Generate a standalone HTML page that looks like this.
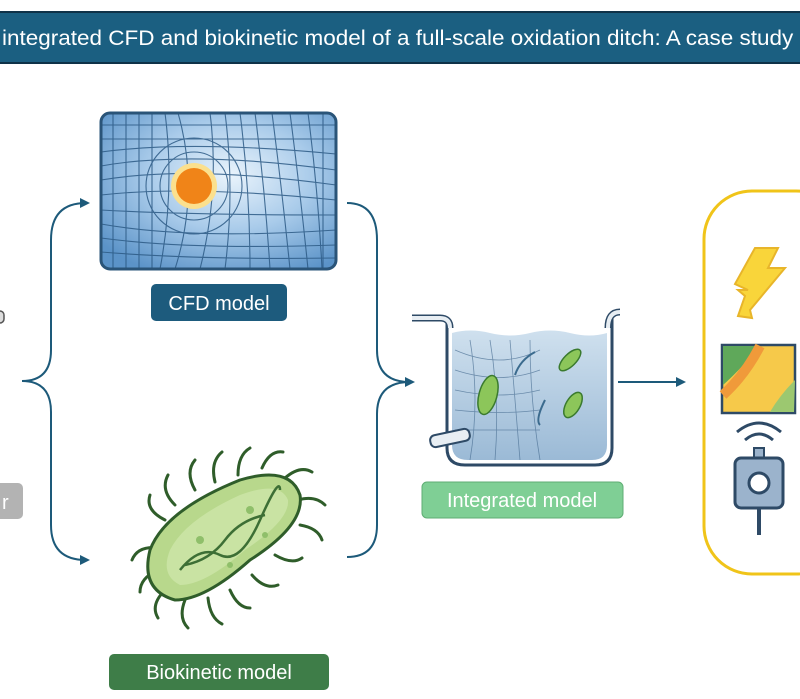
<!DOCTYPE html>
<html><head><meta charset="utf-8"><style>
html,body{margin:0;padding:0;background:#fff;width:800px;height:699px;overflow:hidden;font-family:"Liberation Sans",sans-serif}
</style></head><body>
<svg width="800" height="699" viewBox="0 0 800 699" xmlns="http://www.w3.org/2000/svg">
<defs>
<radialGradient id="cfdg" cx="0.55" cy="0.4" r="0.7"><stop offset="0" stop-color="#eaf4fc"/><stop offset="0.5" stop-color="#a9cbea"/><stop offset="1" stop-color="#5b93c8"/></radialGradient>
<linearGradient id="water" x1="0" y1="0" x2="0" y2="1"><stop offset="0" stop-color="#cfe0ee"/><stop offset="1" stop-color="#9bbad6"/></linearGradient>
<clipPath id="cfdclip"><rect x="101" y="113" width="235" height="156" rx="9"/></clipPath>
</defs>
<!-- header -->
<rect x="0" y="12" width="800" height="51" fill="#1b5f81"/>
<rect x="0" y="11" width="800" height="2" fill="#0f3248"/>
<rect x="0" y="62" width="800" height="2" fill="#0f3248"/>
<text x="2" y="45" font-size="21" fill="#fff" textLength="810" lengthAdjust="spacingAndGlyphs">integrated CFD and biokinetic model of a full-scale oxidation ditch: A case study o</text>

<!-- CFD panel -->
<rect x="101" y="113" width="235" height="156" rx="9" fill="url(#cfdg)"/>
<g clip-path="url(#cfdclip)" stroke="#2c5a85" stroke-width="1.1" fill="none" opacity="0.85">
<path d="M101 125H336M101 139H336M101 152Q190 140 336 154M101 166Q190 150 336 170M101 180Q190 165 336 185M101 195Q190 185 336 200M101 210Q190 215 336 215M101 224Q190 240 336 230M101 238Q190 250 336 245M101 252Q200 260 336 258"/>
<path d="M113 113V269M126 113V269M139 113V269M152 113V269M165 113Q175 190 160 269M178 113Q200 190 175 269M210 113Q220 190 200 269M225 113Q235 190 225 269M240 113Q250 190 250 269M255 113Q265 190 270 269M272 113Q282 190 290 269M290 113Q300 190 308 269M308 113Q318 190 322 269M323 113V269"/>
<circle cx="194" cy="186" r="22"/><circle cx="194" cy="186" r="34"/><circle cx="194" cy="186" r="48"/>
</g>
<rect x="101" y="113" width="235" height="156" rx="9" fill="none" stroke="#2a5478" stroke-width="3"/>
<circle cx="194" cy="186" r="23" fill="#fbe08e"/>
<circle cx="194" cy="186" r="18" fill="#f08418"/>
<rect x="151" y="284" width="136" height="37" rx="5" fill="#1d5b7d"/>
<text x="219" y="310" font-size="20" fill="#fff" text-anchor="middle">CFD model</text>

<!-- left brace -->
<path d="M86 203 Q51 203 51 240 L51 350 Q51 381 22 381 Q51 381 51 412 L51 525 Q51 560 86 560" fill="none" stroke="#1d5a7a" stroke-width="2"/>
<path d="M80 198 L90 203 L80 208Z" fill="#1d5a7a"/>
<path d="M80 555 L90 560 L80 565Z" fill="#1d5a7a"/>
<!-- right brace -->
<path d="M347 203 Q377 203 377 240 L377 350 Q377 382 410 382 M347 557 Q377 557 377 525 L377 414 Q377 382 410 382" fill="none" stroke="#1d5a7a" stroke-width="2"/>
<path d="M405 377 L415 382 L405 387Z" fill="#1d5a7a"/>
<!-- arrow to right -->
<path d="M618 382 L680 382" stroke="#1d5a7a" stroke-width="2"/>
<path d="M676 377 L686 382 L676 387Z" fill="#1d5a7a"/>

<!-- left edge bits -->
<rect x="-10" y="483" width="33" height="36" rx="5" fill="#b3b3b3"/>
<text x="2" y="509" font-size="20" fill="#fff">r</text>
<rect x="-6" y="311" width="10" height="12" rx="4" fill="#ddd" stroke="#555" stroke-width="1.5"/>

<!-- tank -->
<path d="M447 318 L447 448 Q447 465 465 465 L595 465 Q612 465 612 448 L612 318" fill="#fff" stroke="#2e4a66" stroke-width="3"/>
<path d="M452 333 Q470 328 490 333 T530 333 T570 333 T607 333 L607 445 Q607 460 592 460 L468 460 Q452 460 452 445Z" fill="url(#water)"/>
<g stroke="#4a6f93" stroke-width="0.8" fill="none" opacity="0.7">
<path d="M455 350Q500 370 540 350M455 370Q500 385 540 370M455 390Q500 400 540 390M455 410Q500 415 540 410M455 430Q500 430 540 430"/>
<path d="M470 340Q480 400 470 460M490 340Q500 400 495 460M510 340Q515 400 520 460M530 340Q530 400 540 460"/>
</g>
<path d="M412 318 L440 318 Q450 318 450 328" fill="none" stroke="#2e4a66" stroke-width="7"/>
<path d="M412 318 L440 318 Q450 318 450 328" fill="none" stroke="#e8eef3" stroke-width="4"/>
<path d="M608 328 Q608 312 620 312" fill="none" stroke="#2e4a66" stroke-width="7"/>
<path d="M608 328 Q608 312 620 312" fill="none" stroke="#e8eef3" stroke-width="4"/>
<rect x="430" y="432" width="40" height="12" rx="5" fill="#e8eef3" stroke="#2e4a66" stroke-width="2" transform="rotate(-12 450 438)"/>
<ellipse cx="488" cy="395" rx="9" ry="20" fill="#8cc65a" stroke="#3a7a2e" stroke-width="1.5" transform="rotate(15 488 395)"/>
<ellipse cx="570" cy="360" rx="6" ry="14" fill="#8cc65a" stroke="#3a7a2e" stroke-width="1.5" transform="rotate(45 570 360)"/>
<ellipse cx="573" cy="405" rx="7" ry="14" fill="#8cc65a" stroke="#3a7a2e" stroke-width="1.5" transform="rotate(30 573 405)"/>
<path d="M535 352 Q520 360 515 375 M545 400 Q535 420 540 425" fill="none" stroke="#3b6b8e" stroke-width="2"/>
<rect x="422" y="482" width="201" height="36" rx="5" fill="#7fcf95" stroke="#5fae74"/>
<text x="522" y="507" font-size="20" fill="#fff" text-anchor="middle">Integrated model</text>

<!-- bacterium -->
<g stroke="#2f5d2a" stroke-width="3" fill="none" stroke-linecap="round">
<path d="M165 520 Q145 510 150 495M175 505 Q160 490 168 475M195 490 Q185 472 195 460M215 482 Q210 462 222 452M238 475 Q238 455 250 448M262 468 Q270 450 283 452M285 478 Q300 465 312 472M298 500 Q315 495 325 505M300 525 Q318 528 322 540M160 548 Q138 545 132 560M158 570 Q140 578 140 592M165 590 Q150 605 158 618M185 600 Q178 618 188 628M208 598 Q210 618 222 624M230 590 Q238 608 250 608M252 575 Q265 590 278 585M275 555 Q292 565 302 558"/>
</g>
<path d="M175 600 Q140 590 150 550 Q165 510 240 480 Q290 465 300 495 Q305 525 250 560 Q205 600 175 600Z" fill="#b8d88c" stroke="#2f5d2a" stroke-width="3"/>
<path d="M180 585 Q160 575 170 550 Q185 520 240 495 Q280 480 288 500 Q290 520 245 550 Q205 585 180 585Z" fill="#c9e3a3"/>
<path d="M180 570 Q200 545 220 555 T260 520 T280 490 M185 565 Q210 560 225 540 T265 515" fill="none" stroke="#3d6f35" stroke-width="2.5"/>
<g fill="#8fbf6a"><circle cx="200" cy="540" r="4"/><circle cx="250" cy="510" r="4"/><circle cx="230" cy="565" r="3"/><circle cx="265" cy="535" r="3"/></g>
<rect x="109" y="654" width="220" height="36" rx="5" fill="#3e7d48"/>
<text x="219" y="679" font-size="20" fill="#fff" text-anchor="middle">Biokinetic model</text>

<!-- right panel -->
<rect x="704" y="191" width="140" height="383" rx="48" fill="#fff" stroke="#f0c419" stroke-width="3"/>
<path d="M755 248 L778 248 L768 268 L785 268 L750 310 L752 318 L738 316 L745 296 L738 290 L748 290 L735 284Z" fill="#f9d53a" stroke="#e8b52a" stroke-width="2"/>
<rect x="722" y="345" width="73" height="68" fill="#f6c94a" stroke="#2e4a66" stroke-width="2.5"/>
<path d="M723 346 L760 346 Q740 370 723 385Z" fill="#5fa85a"/>
<path d="M760 346 Q745 375 723 395" fill="none" stroke="#f09a3a" stroke-width="10"/>
<path d="M795 380 Q780 395 770 412 L794 412Z" fill="#9cc870"/>
<path d="M745 440 Q759 428 773 440" fill="none" stroke="#2e4a66" stroke-width="3"/>
<path d="M737 432 Q759 414 781 432" fill="none" stroke="#2e4a66" stroke-width="3"/>
<rect x="754" y="448" width="10" height="10" fill="#9bb3cc" stroke="#2e4a66" stroke-width="2"/>
<rect x="735" y="458" width="48" height="50" rx="6" fill="#9bb3cc" stroke="#2e4a66" stroke-width="3"/>
<circle cx="759" cy="483" r="10" fill="#fff" stroke="#2e4a66" stroke-width="3"/>
<path d="M759 508 L759 535" stroke="#2e4a66" stroke-width="4"/>
</svg>
</body></html>
